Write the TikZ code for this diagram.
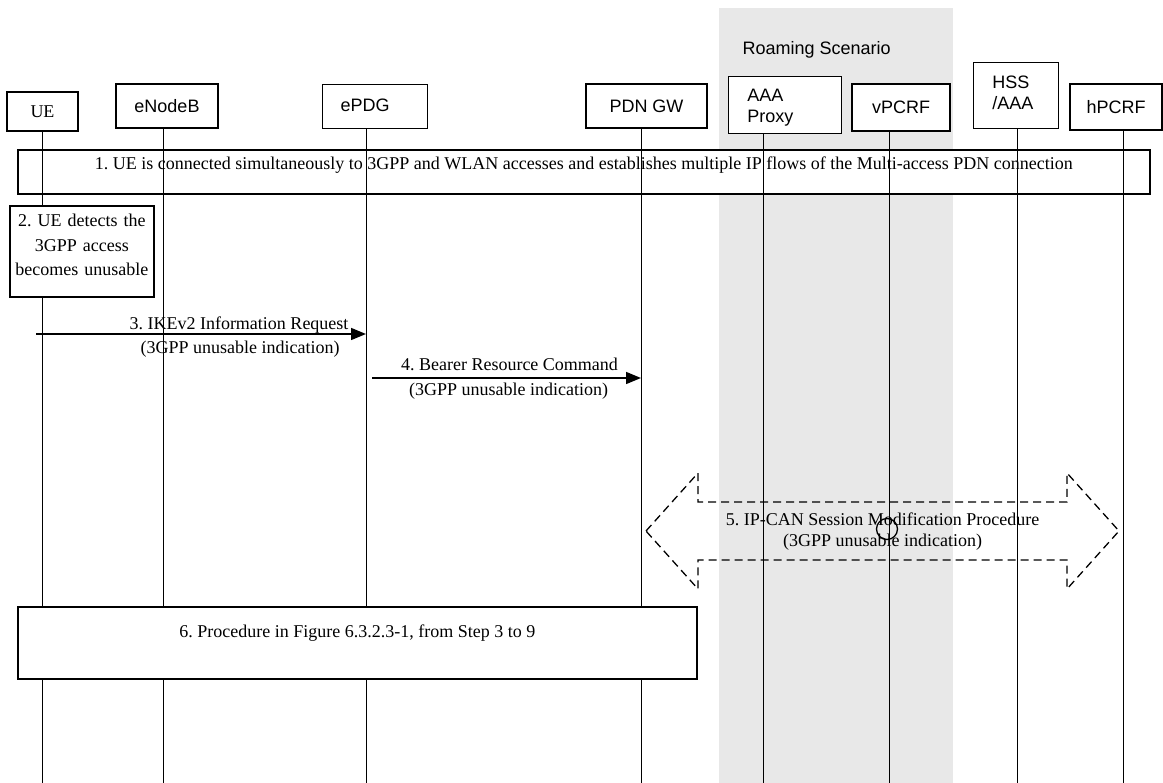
\documentclass[tikz,border=0pt]{standalone}
\usepackage{fontspec}
\setmainfont{Liberation Serif}
\setsansfont{Liberation Sans}
\usetikzlibrary{positioning,arrows.meta,calc}
\definecolor{roamgray}{HTML}{E8E8E8}
\frenchspacing

\begin{document}
\begin{tikzpicture}[
    x=1pt, y=-1pt,
    font=\fontsize{18}{24.7}\selectfont,
    entity/.style={draw, line width=1.2pt, fill=white, inner sep=0pt,
                   font=\sffamily\fontsize{18}{20.5}\selectfont},
    entityl/.style={entity, anchor=north west, align=left},
    stepbox/.style={draw, line width=1.8pt, fill=white, anchor=north west,
                    inner sep=0pt, align=center},
    life/.style={line width=1pt},
    msg/.style={-{Triangle[length=15pt,width=12pt]}, line width=1.5pt},
    lbl/.style={anchor=base, inner sep=0pt},
  ]
    \useasboundingbox (0,0) rectangle (1163,783);

    % Roaming area
    \fill[roamgray] (719,8) rectangle (953,783);
    \node[entity, draw=none, fill=none, anchor=base west] (roam) at (742,55) {Roaming Scenario};

    % Step 1 spans all entities
    \node[stepbox, minimum width=1132pt, text height=19.3pt, text depth=24.7pt] (connect) at (17,149)
        {1. UE is connected simultaneously to 3GPP and WLAN accesses and establishes multiple IP flows of the Multi-access PDN connection};

    % Entities
    \node[entity, font=\rmfamily\fontsize{18}{20}\selectfont, minimum width=71pt, minimum height=39pt] (ue) at (42.5,111.5) {UE};
    \node[entity, minimum width=102pt, minimum height=44pt] (enb) at (167,106) {eNodeB};
    \node[entityl, inner xsep=18pt, text width=69pt, text height=27pt, text depth=17pt] (epdg) at (322,84) {ePDG};
    \node[entity, minimum width=121pt, minimum height=44pt] (pgw) at (646.5,106) {PDN GW};
    \node[entityl, inner xsep=18.7pt, text width=75.6pt, text height=25pt, text depth=32pt] (aaa) at (728,76) {AAA\\Proxy};
    \node[entity, minimum width=98pt, minimum height=47pt] (vpcrf) at (901,107.5) {vPCRF};
    \node[entityl, inner xsep=18.7pt, text width=47.6pt, text height=26.3pt, text depth=39.7pt] (hss) at (973,62) {HSS\\/AAA};
    \node[entity, minimum width=92pt, minimum height=46pt] (hpcrf) at (1116,107) {hPCRF};

    % Lifelines
    \coordinate (ue-end)    at (42,783);
    \coordinate (enb-end)   at (163,783);
    \coordinate (epdg-end)  at (366,783);
    \coordinate (pgw-end)   at (641,783);
    \coordinate (aaa-end)   at (763,783);
    \coordinate (vpcrf-end) at (889,783);
    \coordinate (hss-end)   at (1017,783);
    \coordinate (hpcrf-end) at (1123,783);
    \foreach \n in {ue,enb,epdg,pgw,aaa,vpcrf,hss,hpcrf}
        \draw[life] (\n.south -| \n-end) -- (\n-end);

    % Step 2
    \node[stepbox, text width=140pt, inner xsep=2pt, text height=20.7pt, text depth=70.3pt] (detect) at (9,205)
        {2. UE detects the\\3GPP access\\becomes unusable};

    % Step 3
    \coordinate (ikev-from) at (36,334);
    \draw[msg] (ikev-from) -- (ikev-from -| epdg-end);
    \node[lbl] (ikev-top) at (239,330) {3. IKEv2 Information Request};
    \node[lbl] (ikev-bot) at (240,354) {(3GPP unusable indication)};

    % Step 4
    \coordinate (brc-from) at (372,378);
    \draw[msg] (brc-from) -- (brc-from -| pgw-end);
    \node[lbl] (brc-top) at (509.5,371) {4. Bearer Resource Command};
    \node[lbl] (brc-bot) at (508.5,396) {(3GPP unusable indication)};

    % Step 5
    \draw[line width=1.3pt, dash pattern=on 8pt off 5pt]
        (646,531) -- (698,473) -- (698,502) -- (1067,502) -- (1067,473) -- (1119,531)
        -- (1067,589) -- (1067,560) -- (698,560) -- (698,589) -- cycle;
    \node[align=center, inner sep=0pt, font=\fontsize{18}{21.5}\selectfont] (ipcan) at (882.5,531.5)
        {5. IP-CAN Session Modification Procedure\\(3GPP unusable indication)};
    \draw[line width=1.3pt] (887,529) circle[radius=10.5pt];

    % Step 6
    \node[stepbox, minimum width=679pt, text height=30.5pt, text depth=41.5pt] (proc) at (17,606)
        {6. Procedure in Figure 6.3.2.3-1, from Step 3 to 9};
\end{tikzpicture}
\end{document}
